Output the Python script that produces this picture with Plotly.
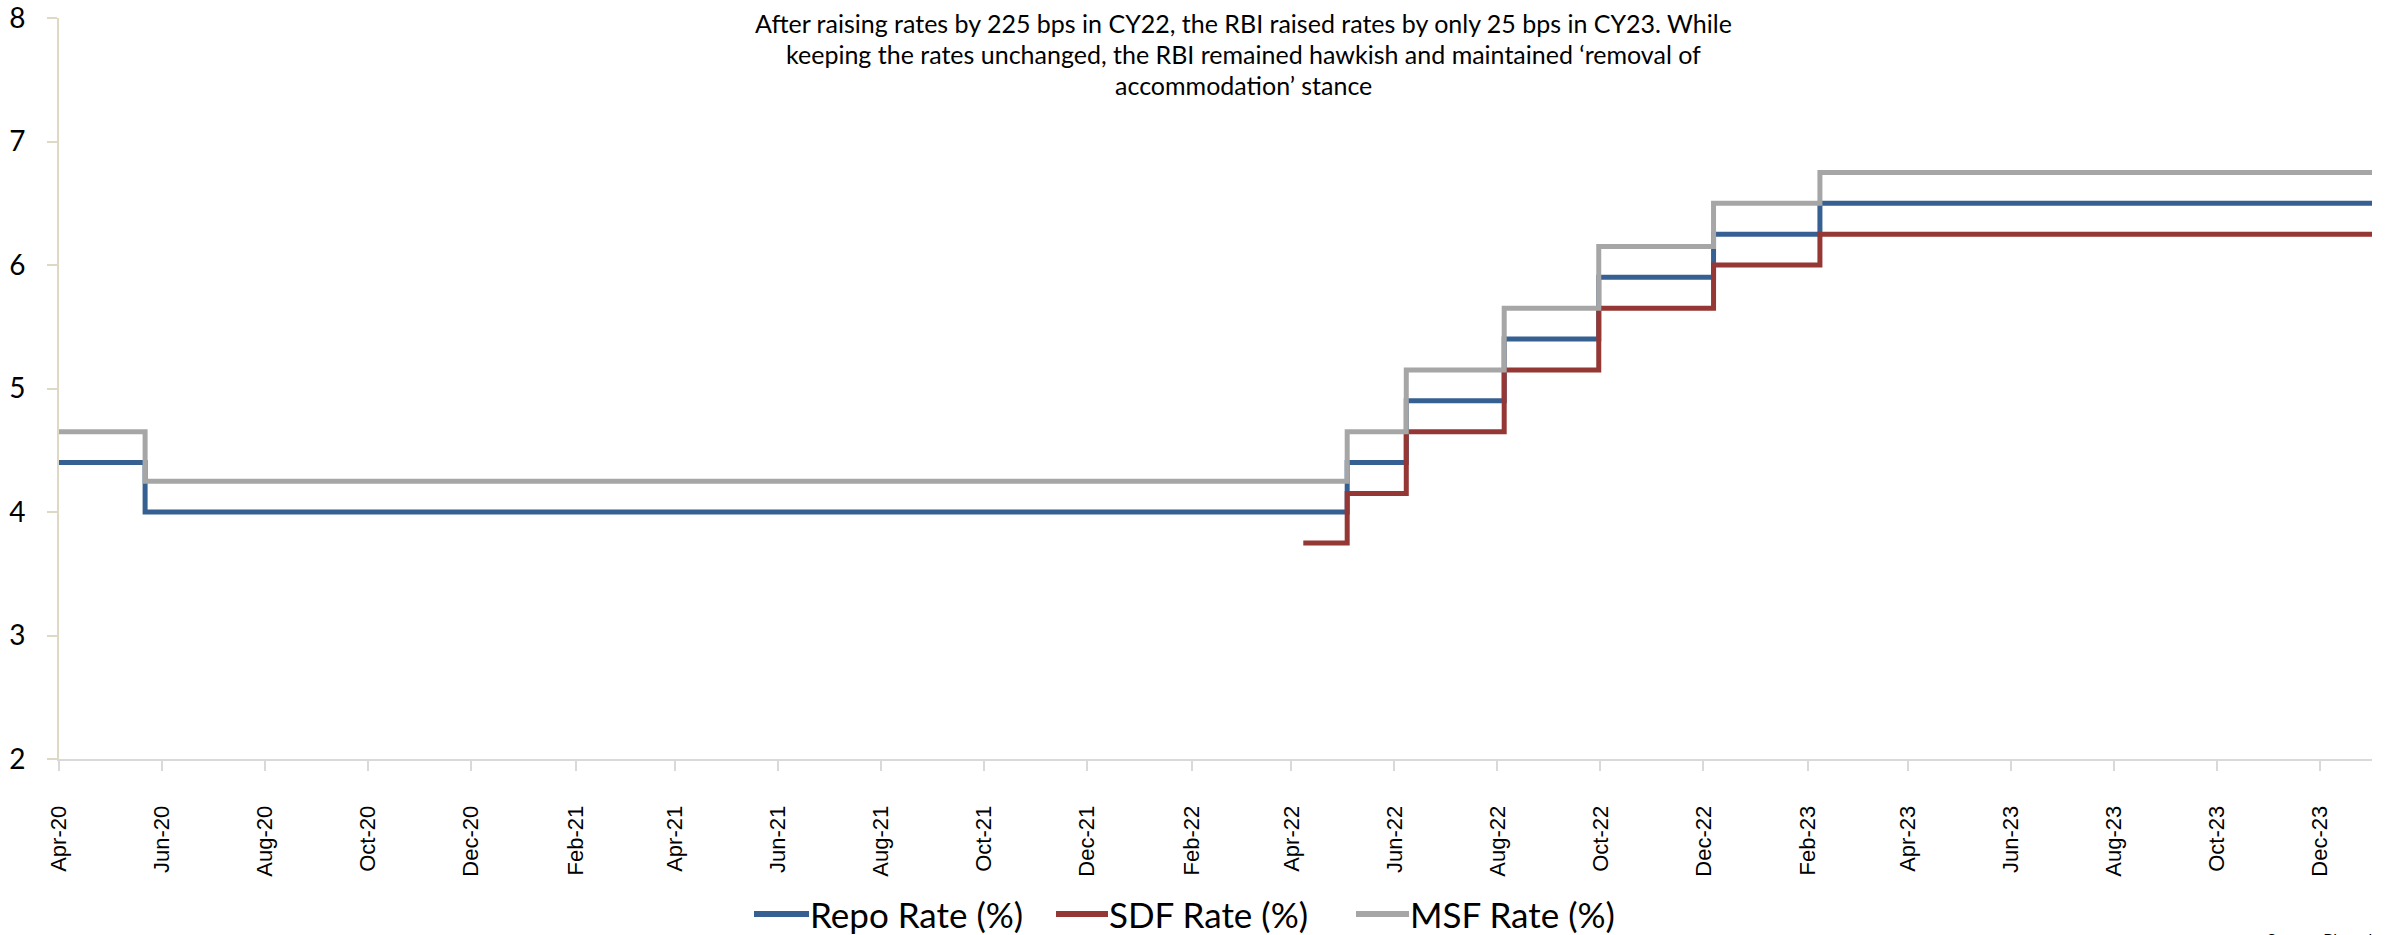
import plotly.graph_objects as go

# Policy rate change dates and levels (rate holds until the next change)
repo_dates = ["2020-04-01", "2020-05-22", "2022-05-04", "2022-06-08", "2022-08-05",
              "2022-09-30", "2022-12-07", "2023-02-08", "2024-01-01"]
repo_rate = [4.40, 4.00, 4.40, 4.90, 5.40, 5.90, 6.25, 6.50, 6.50]

msf_dates = ["2020-04-01", "2020-05-22", "2022-05-04", "2022-06-08", "2022-08-05",
             "2022-09-30", "2022-12-07", "2023-02-08", "2024-01-01"]
msf_rate = [4.65, 4.25, 4.65, 5.15, 5.65, 6.15, 6.50, 6.75, 6.75]

sdf_dates = ["2022-04-08", "2022-05-04", "2022-06-08", "2022-08-05", "2022-09-30",
             "2022-12-07", "2023-02-08", "2024-01-01"]
sdf_rate = [3.75, 4.15, 4.65, 5.15, 5.65, 6.00, 6.25, 6.25]

series_names = ["Repo Rate (%)", "SDF Rate (%)", "MSF Rate (%)"]
series_colors = ["#376092", "#953735", "#A6A6A6"]

title_lines = [
    "After raising rates by 225 bps in CY22, the RBI raised rates by only 25 bps in CY23. While",
    "keeping the rates unchanged, the RBI remained hawkish and maintained \u2018removal of",
    "accommodation\u2019 stance",
]
source_text = "Source: Bloomberg"

W, H = 2389, 935
ML, MR, MT, MB = 59, 17, 18, 176
PW, PH = W - ML - MR, H - MT - MB


def px(x):
    return (x - ML) / PW


def py(y):
    return (H - MB - y) / PH


fig = go.Figure()
for dates, vals, name, color in [
    (repo_dates, repo_rate, series_names[0], series_colors[0]),
    (sdf_dates, sdf_rate, series_names[1], series_colors[1]),
    (msf_dates, msf_rate, series_names[2], series_colors[2]),
]:
    fig.add_trace(go.Scatter(
        x=dates, y=vals, name=name, mode="lines",
        line=dict(color=color, width=5, shape="hv"),
        showlegend=False,
    ))

calibri_like = "Lato, 'Open Sans', sans-serif"

fig.update_layout(
    width=W, height=H,
    margin=dict(l=ML, r=MR, t=MT, b=MB, pad=0),
    paper_bgcolor="white", plot_bgcolor="white",
    font=dict(family=calibri_like, color="#000000"),
    xaxis=dict(
        type="date", range=["2020-04-01", "2024-01-01"],
        tick0="2020-04-01", dtick="M2", tickformat="%b-%y",
        tickangle=-90, ticks="outside", ticklen=10, tickwidth=2,
        tickcolor="#D9D9D9", showline=True, linecolor="#D9D9D9", linewidth=2,
        showgrid=False, zeroline=False, automargin=False,
        tickfont=dict(family="'Liberation Sans', Arial, sans-serif", size=22, color="#000000"),
        ticklabelstandoff=26, ticklabeloverflow="allow",
    ),
    yaxis=dict(
        range=[2, 8], dtick=1, ticks="outside", ticklen=10, tickwidth=2,
        tickcolor="#DDD9C4", showline=True, linecolor="#DDD9C4", linewidth=2,
        showgrid=False, zeroline=False, automargin=False,
        tickfont=dict(family=calibri_like, size=28, color="#000000"),
        ticklabelstandoff=16, ticklabeloverflow="allow",
    ),
)

# Chart caption inside the top of the plot area, one annotation per line
for line_text, y_center in zip(title_lines, [23, 54, 85]):
    fig.add_annotation(
        text=line_text, xref="paper", yref="paper", x=px(1243), y=py(y_center),
        xanchor="center", yanchor="middle", showarrow=False,
        font=dict(family=calibri_like, size=25, color="#000000"),
    )

# Legend row drawn below the axis
legend_items = [
    (754, 809),
    (1056, 1108),
    (1356, 1409),
]
legend_y = 914
for (x0, x1), name, color in zip(legend_items, series_names, series_colors):
    fig.add_shape(type="line", xref="paper", yref="paper",
                  x0=px(x0), x1=px(x1), y0=py(legend_y), y1=py(legend_y),
                  line=dict(color=color, width=6))
    fig.add_annotation(text=name, xref="paper", yref="paper",
                       x=px(x1 - 1), y=py(legend_y), xanchor="left", yanchor="middle",
                       showarrow=False,
                       font=dict(family=calibri_like, size=35, color="#000000"))

fig.add_annotation(text=source_text, xref="paper", yref="paper",
                   x=px(2265), y=py(927), xanchor="left", yanchor="top",
                   showarrow=False,
                   font=dict(family=calibri_like, size=16, color="#000000"))

fig.write_html("out.html")
